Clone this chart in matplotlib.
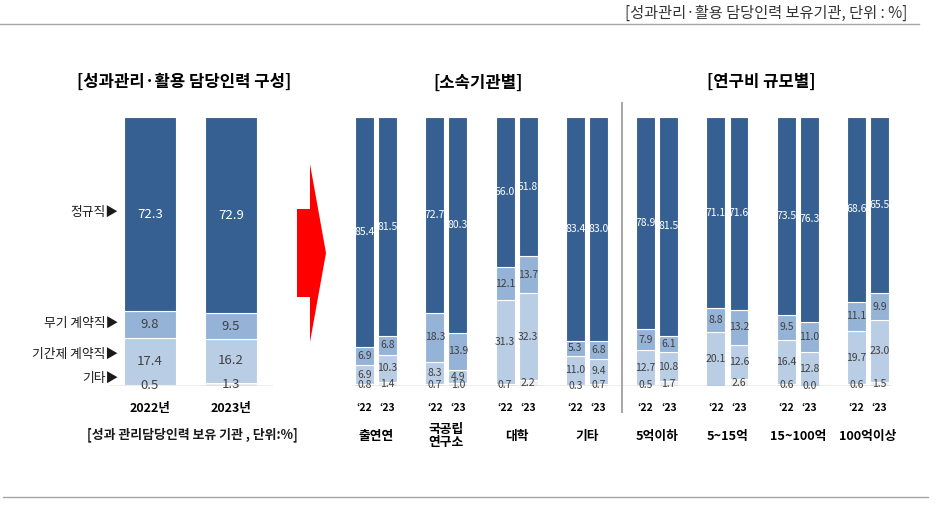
import matplotlib
matplotlib.use("Agg")
import matplotlib.pyplot as plt
from matplotlib.patches import Polygon
from matplotlib.lines import Line2D
import numpy as np

plt.rcParams['font.family'] = ['Noto Sans CJK KR', 'DejaVu Sans']

# ---------------- data ----------------
years = ['2022년', '2023년']
seg_names = ['정규직', '무기 계약직', '기간제 계약직', '기타']
left_regular = [72.3, 72.9]
left_indef = [9.8, 9.5]
left_fixed = [17.4, 16.2]
left_other = [0.5, 1.3]

groups = ['출연연', '국공립\n연구소', '대학', '기타', '5억이하', '5~15억', '15~100억', '100억이상']
sub_years = ['‘22', '‘23']
# per group: ['22, '23]
grp_regular = [[85.4, 81.5], [72.7, 80.3], [56.0, 51.8], [83.4, 83.0],
               [78.9, 81.5], [71.1, 71.6], [73.5, 76.3], [68.6, 65.5]]
grp_indef = [[6.9, 6.8], [18.3, 13.9], [12.1, 13.7], [5.3, 6.8],
             [7.9, 6.1], [8.8, 13.2], [9.5, 11.0], [11.1, 9.9]]
grp_fixed = [[6.9, 10.3], [8.3, 4.9], [31.3, 32.3], [11.0, 9.4],
             [12.7, 10.8], [20.1, 12.6], [16.4, 12.8], [19.7, 23.0]]
grp_other = [[0.8, 1.4], [0.7, 1.0], [0.7, 2.2], [0.3, 0.7],
             [0.5, 1.7], [np.nan, 2.6], [0.6, 0.0], [0.6, 1.5]]

title_left = '[성과관리·활용 담당인력 구성]'
title_mid = '[소속기관별]'
title_right = '[연구비 규모별]'
note_top = '[성과관리·활용 담당인력 보유기관, 단위 : %]'
note_left = '[성과 관리담당인력 보유 기관 , 단위:%]'

# ---------------- style ----------------
C_DARK = '#376092'
C_MID = '#95B3D7'
C_LIGHT = '#B9CDE5'
C_OTHER = '#EEF0F0'
seg_colors = [C_OTHER, C_LIGHT, C_MID, C_DARK]  # bottom -> top
TXT = '#1a1a1a'
GRID = '#A6A6A6'

W, H = 941, 511
fig = plt.figure(figsize=(W / 100, H / 100), dpi=100)


def fx(x):
    return x / W


def fy(y):
    return 1 - y / H


def add_ax(x0, x1, ytop, ybot):
    return fig.add_axes([fx(x0), fy(ybot), (x1 - x0) / W, (ybot - ytop) / H])


def stack(ax, xpos, width, layers, fs, label_color_dark='white'):
    bottom = np.zeros(len(xpos))
    for k, vals in enumerate(layers):
        v = np.array(vals, dtype=float)
        vv = np.nan_to_num(v)
        ax.bar(xpos, vv, width, bottom=bottom, color=seg_colors[k],
               edgecolor='white', linewidth=0.8, zorder=2)
        for xi, b, val in zip(xpos, bottom, v):
            if np.isnan(val):
                continue
            col = label_color_dark if k == 3 else '#404040'
            ax.text(xi, b + val / 2, f'{val:.1f}', ha='center', va='center',
                    fontsize=fs, color=col, zorder=4)
        bottom = bottom + vv


# ---------------- left panel ----------------
axL = add_ax(109, 273, 117, 386)
xL = np.arange(len(years))
stack(axL, xL, 0.642, [left_other, left_fixed, left_indef, left_regular], 9.5)
axL.set_xlim(-0.506, 1.519)
axL.set_ylim(0, 100)
axL.axis('off')
axL.add_line(Line2D([0, 1], [0, 0], transform=axL.transAxes, color=GRID, lw=1.0, zorder=3))
for xi, yl in zip(xL, years):
    axL.text(xi, -8.2, yl, ha='center', va='center', fontsize=9, fontweight='bold', color='black')

for name, ypix in zip(seg_names, [212, 323, 354, 378]):
    fig.text(fx(118), fy(ypix), name + '▶', ha='right', va='center', fontsize=9.2,
             fontweight='medium', color=TXT)

fig.text(fx(184), fy(82), title_left, ha='center', va='center', fontsize=12, fontweight='bold', color='black')
fig.text(fx(192), fy(435), note_left, ha='center', va='center', fontsize=9.3, fontweight='bold', color=TXT)

# ---------------- middle + right panel ----------------
axR = add_ax(352, 892, 117, 386)
n = len(groups)
xg = np.arange(n)
off = 0.1636
wid = 0.27
xs = np.concatenate([xg - off, xg + off])
lay = []
for arr in [grp_other, grp_fixed, grp_indef, grp_regular]:
    a = np.array(arr, dtype=float)
    lay.append(np.concatenate([a[:, 0], a[:, 1]]))
stack(axR, xs, wid, lay, 7.5)
axR.set_xlim(-0.341, 7.34)
axR.set_ylim(0, 100)
axR.axis('off')
axR.add_line(Line2D([0, 1], [0, 0], transform=axR.transAxes, color=GRID, lw=1.0, zorder=3))
for i in range(n):
    for j, s in enumerate(sub_years):
        axR.text(i + (off if j else -off), -8.2, s, ha='center', va='center',
                 fontsize=7.5, fontweight='bold', color='black')
    axR.text(i, -18.6, groups[i], ha='center', va='center', fontsize=9.2,
             fontweight='bold', color='black', linespacing=1.0)

# separator
fig.add_artist(Line2D([fx(622), fx(622)], [fy(103), fy(412)], color=GRID, lw=1.4))

fig.text(fx(478), fy(83), title_mid, ha='center', va='center', fontsize=12, fontweight='bold', color='black')
fig.text(fx(761), fy(82), title_right, ha='center', va='center', fontsize=12, fontweight='bold', color='black')

# ---------------- arrow ----------------
arrow_px = [(297, 209), (310, 209), (310, 164), (326, 253), (310, 342), (310, 297), (297, 297)]
fig.add_artist(Polygon([(fx(x), fy(y)) for x, y in arrow_px], closed=True,
                       facecolor='#FF0000', edgecolor='none', transform=fig.transFigure))

# ---------------- frame lines & notes ----------------
fig.add_artist(Line2D([fx(0), fx(919)], [fy(24), fy(24)], color=GRID, lw=1.0))
fig.add_artist(Line2D([fx(3), fx(928)], [fy(497), fy(497)], color=GRID, lw=1.0))
fig.text(fx(907), fy(13), note_top, ha='right', va='center', fontsize=11, color='#333333')

fig.savefig('out.png', dpi=100, facecolor='white')
